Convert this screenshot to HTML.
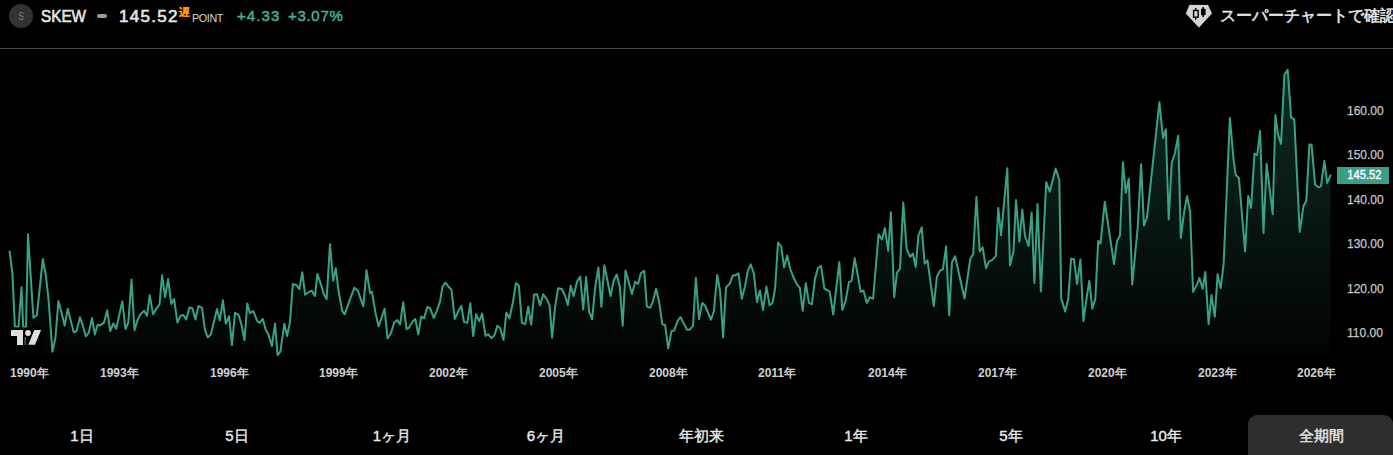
<!DOCTYPE html>
<html lang="ja">
<head>
<meta charset="utf-8">
<style>
html,body{margin:0;padding:0;background:#000;width:1393px;height:455px;overflow:hidden;}
body{position:relative;font-family:"Liberation Sans",sans-serif;color:#d1d4dc;}
.a{position:absolute;white-space:nowrap;}
.logo{left:9px;top:4px;width:24px;height:24px;border-radius:50%;background:#323232;}
.logoS{left:9px;top:4px;width:24px;color:#808080;font-size:11.5px;line-height:24px;text-align:center;transform:scaleX(0.72);transform-origin:12px 0;}
.sym{left:41px;top:5px;font-size:17px;font-weight:normal;-webkit-text-stroke:0.6px #e6e6e6;color:#e6e6e6;line-height:24px;transform:scaleX(0.9);transform-origin:0 0;}
.dash{left:97px;top:14px;width:10px;height:4px;border-radius:2px;background:#9a9a9a;}
.price{left:119px;top:5px;font-size:17px;font-weight:normal;-webkit-text-stroke:0.6px #e6e6e6;color:#e6e6e6;line-height:24px;letter-spacing:1.3px;}
.delay{left:179px;top:5px;font-size:11px;font-weight:bold;-webkit-text-stroke:0.2px #ff9800;color:#ff9800;line-height:14px;}
.unit{left:192px;top:11px;font-size:10.8px;color:#d8d8d8;line-height:14px;letter-spacing:-0.4px;}
.chg{top:6px;font-size:15px;font-weight:normal;-webkit-text-stroke:0.5px #40b094;color:#40b094;line-height:20px;letter-spacing:1.1px;}
.sep{left:0;top:48px;width:1393px;height:1px;background:#4a4a4a;}
.sc{left:1186px;top:4px;}
.sct{left:1220px;top:4px;font-size:16px;font-weight:normal;-webkit-text-stroke:0.5px #e8e8e8;color:#e8e8e8;line-height:24px;}
.yl{left:1347px;font-size:12px;color:#c6c6c6;-webkit-text-stroke:0.25px #c6c6c6;line-height:14px;}
.xl{top:366px;font-size:12px;font-weight:bold;color:#cfcfcf;line-height:14px;}
.tab{top:427px;font-size:15px;font-weight:normal;-webkit-text-stroke:0.4px #e8e8e8;color:#e8e8e8;line-height:18px;text-align:center;width:154px;}
.btn{left:1248px;top:415px;width:145px;height:50px;border-radius:9px;background:#2e2e2e;}
.lastlbl{left:1337px;top:167px;width:52px;height:17px;background:#3a9e86;color:#fff;font-size:12px;font-weight:normal;-webkit-text-stroke:0.35px #fff;line-height:17px;text-align:center;}
.lastlbl span{display:inline-block;transform:scaleX(0.93);margin-left:2px;}
</style>
</head>
<body>
<div class="a logo"></div><div class="a logoS">S</div>
<div class="a sym">SKEW</div>
<div class="a dash"></div>
<div class="a price">145.52</div>
<div class="a delay">遅</div>
<div class="a unit">POINT</div>
<div class="a chg" style="left:237px">+4.33</div>
<div class="a chg" style="left:288px;letter-spacing:0.7px">+3.07%</div>
<svg class="a" style="left:1182px;top:0" width="34" height="32" viewBox="0 0 34 32">
<path d="M7.4 4.9 L26 4.9 L29.9 13.4 L16.9 27.4 L3.9 13.4 Z" fill="#d4d4d4" stroke="#d4d4d4" stroke-width="0.2" stroke-linejoin="round"/>
<path d="M13.7 8.1 V19.7" stroke="#000" stroke-width="1.4"/>
<rect x="11.6" y="10.5" width="4.6" height="6.7" fill="#d4d4d4" stroke="#000" stroke-width="1.4"/>
<path d="M21.2 7 V16.9" stroke="#000" stroke-width="1.5"/>
<rect x="19" y="8.8" width="4.6" height="6.3" fill="#000"/>
</svg>
<div class="a sct">スーパーチャートで確認</div>
<div class="a sep"></div>

<svg class="a" style="left:0;top:0" width="1393" height="400" viewBox="0 0 1393 400">
<defs><linearGradient id="g" x1="0" y1="69" x2="0" y2="355.5" gradientUnits="userSpaceOnUse">
<stop offset="0" stop-color="#38a287" stop-opacity="0.27"/>
<stop offset="1" stop-color="#38a287" stop-opacity="0.02"/>
</linearGradient></defs>
<path d="M9.6 251.4 L12.4 272.8 L14.9 326.6 L18.5 327.1 L21.5 287.2 L23.2 327.1 L26.0 327.1 L28.0 234.3 L33.4 317.8 L36.9 315.2 L42.8 259.1 L45.8 275.0 L48.6 300.0 L52.4 351.7 L55.4 338.0 L58.4 300.9 L61.2 311.6 L64.7 325.7 L67.7 308.8 L73.8 332.4 L76.5 331.0 L80.0 317.3 L82.6 324.8 L85.8 336.3 L88.8 332.7 L92.0 318.0 L94.9 334.5 L97.6 324.8 L100.3 325.4 L104.0 322.6 L107.2 310.2 L110.2 331.0 L113.4 323.3 L116.2 328.7 L122.3 301.4 L125.5 329.1 L128.3 322.6 L131.5 279.4 L134.5 330.2 L137.6 319.8 L140.4 314.2 L144.2 310.8 L147.0 315.7 L149.8 295.3 L153.0 314.2 L156.3 308.9 L159.5 304.3 L162.1 275.3 L165.1 297.0 L168.1 279.0 L171.3 303.9 L174.1 299.0 L177.4 322.6 L180.6 315.7 L183.4 315.1 L186.2 319.4 L189.4 307.6 L192.4 308.2 L195.5 319.4 L198.3 306.2 L202.0 307.7 L204.9 329.7 L207.7 337.4 L210.8 334.6 L217.0 309.1 L219.8 320.5 L222.9 300.3 L225.8 323.6 L229.1 316.1 L231.9 345.1 L235.0 312.8 L238.5 314.8 L241.6 325.3 L244.5 340.3 L247.3 303.4 L249.9 313.2 L253.2 311.0 L257.1 320.7 L259.6 322.9 L262.9 319.0 L265.3 328.6 L268.6 335.0 L271.9 346.0 L275.0 323.8 L277.6 355.0 L280.4 351.7 L284.3 323.8 L287.1 336.0 L290.0 322.1 L292.8 284.0 L296.5 285.1 L299.4 289.1 L302.3 272.2 L305.1 294.8 L309.2 291.8 L311.6 290.6 L315.0 295.9 L317.4 273.9 L321.0 284.6 L323.7 293.8 L326.6 299.1 L330.0 244.2 L333.1 280.9 L335.8 268.3 L338.7 291.8 L342.3 311.2 L344.7 314.3 L349.6 300.3 L354.4 287.7 L358.0 291.1 L363.3 306.3 L366.5 270.3 L370.1 293.0 L372.0 291.8 L375.4 312.4 L378.6 326.4 L384.6 308.7 L387.5 338.5 L390.7 333.6 L394.3 322.5 L397.2 320.1 L400.1 324.5 L403.2 302.2 L406.6 329.2 L409.0 327.6 L412.5 321.7 L415.3 318.9 L418.3 334.4 L421.2 316.4 L424.2 318.3 L427.2 306.9 L430.3 308.5 L433.7 318.0 L437.0 310.4 L440.0 301.5 L442.6 286.3 L445.5 282.7 L448.5 286.7 L451.5 289.7 L454.8 318.9 L458.0 311.8 L461.4 305.8 L463.9 321.7 L467.3 322.9 L470.3 303.2 L473.2 336.1 L476.2 314.1 L479.2 321.3 L482.1 313.5 L485.5 335.8 L488.1 334.2 L491.4 338.1 L494.4 335.2 L497.4 325.7 L500.3 328.2 L503.5 340.1 L506.3 312.5 L509.4 318.3 L512.9 302.5 L515.9 283.1 L518.9 285.7 L521.9 322.8 L525.2 324.2 L528.2 306.7 L531.2 324.6 L534.1 294.6 L537.1 294.2 L540.1 305.4 L543.2 294.3 L546.6 298.9 L549.6 305.4 L552.1 337.7 L555.1 306.8 L558.1 288.2 L561.8 289.0 L565.0 295.5 L567.8 305.0 L570.7 285.8 L573.7 296.1 L576.9 281.7 L580.2 276.5 L583.2 309.4 L586.1 277.1 L589.1 311.4 L592.1 319.3 L595.4 285.7 L598.4 267.6 L601.4 306.8 L604.3 265.2 L607.3 279.7 L610.5 296.1 L613.8 280.3 L616.8 274.5 L619.8 286.9 L622.7 325.8 L625.5 270.6 L628.6 281.4 L631.9 294.1 L635.2 281.8 L638.1 284.0 L640.9 273.0 L644.2 270.8 L646.9 306.6 L650.2 307.7 L652.8 301.8 L656.1 288.7 L659.0 301.2 L662.3 324.2 L665.1 324.9 L668.2 348.4 L671.5 331.3 L674.3 330.4 L677.6 320.9 L680.5 317.0 L683.6 323.1 L687.1 329.7 L689.7 329.7 L693.0 325.8 L695.9 277.7 L699.0 319.2 L702.3 302.9 L705.1 305.5 L711.0 319.8 L713.9 311.0 L717.2 275.0 L720.1 291.3 L723.1 337.4 L726.0 287.4 L729.7 283.8 L732.6 275.8 L735.7 275.0 L738.6 273.4 L741.8 298.7 L744.9 286.7 L747.8 270.9 L750.7 264.4 L753.8 273.4 L757.0 301.9 L759.9 290.5 L763.0 310.1 L766.4 286.6 L769.6 305.3 L772.5 302.9 L775.1 288.3 L778.0 242.6 L781.2 246.3 L784.1 267.3 L787.2 255.4 L790.1 268.5 L793.3 277.0 L796.6 283.8 L799.8 287.9 L802.7 310.8 L805.8 283.2 L809.0 302.9 L811.9 304.3 L815.0 278.7 L817.9 268.0 L821.1 266.1 L824.4 288.6 L827.0 290.0 L829.7 291.7 L833.2 314.5 L839.3 262.2 L842.3 309.8 L845.6 300.8 L848.9 282.4 L851.6 280.7 L854.7 258.1 L860.7 291.7 L863.5 290.6 L866.8 303.0 L869.8 297.2 L873.1 298.8 L878.6 234.2 L881.9 239.5 L884.9 228.1 L888.2 250.8 L890.9 212.2 L894.2 297.2 L897.0 272.7 L900.0 268.6 L903.3 202.6 L906.6 248.6 L910.2 256.8 L912.9 253.5 L915.7 267.0 L918.4 235.7 L921.7 227.3 L924.7 263.7 L927.5 260.3 L933.8 306.2 L936.9 276.4 L940.0 270.7 L942.9 269.3 L946.1 246.4 L949.2 315.2 L951.9 262.4 L955.1 256.2 L964.5 298.5 L970.3 258.8 L973.2 254.0 L976.4 197.0 L979.7 251.5 L982.6 247.3 L986.0 268.0 L989.1 261.3 L992.2 259.9 L995.8 256.1 L998.3 207.9 L1001.0 235.3 L1007.3 168.2 L1010.0 265.5 L1013.5 250.9 L1016.0 200.0 L1019.4 241.6 L1022.3 209.6 L1025.0 236.0 L1028.6 246.0 L1031.6 212.5 L1034.4 283.0 L1037.5 203.9 L1040.9 291.4 L1046.2 182.1 L1049.8 191.6 L1055.7 168.6 L1059.3 179.8 L1061.2 298.3 L1065.2 311.6 L1068.2 298.9 L1071.1 258.8 L1073.9 259.2 L1077.1 283.9 L1080.4 259.5 L1083.4 321.1 L1086.4 299.3 L1089.3 280.7 L1092.3 308.8 L1095.3 298.9 L1098.2 241.0 L1100.5 243.5 L1104.8 201.8 L1114.0 264.0 L1117.0 241.2 L1120.0 235.5 L1122.9 162.3 L1125.8 192.8 L1128.8 178.7 L1132.2 284.6 L1137.7 227.4 L1141.1 164.3 L1144.0 225.4 L1147.0 217.5 L1159.4 102.2 L1163.0 137.9 L1165.8 129.3 L1168.7 219.5 L1171.7 162.8 L1174.9 153.3 L1178.2 135.8 L1180.8 237.9 L1184.2 211.6 L1187.1 196.1 L1190.1 211.6 L1193.1 291.9 L1197.0 284.6 L1199.4 278.0 L1202.7 288.9 L1205.3 272.0 L1208.6 324.1 L1211.5 294.9 L1214.8 316.8 L1217.6 274.2 L1220.7 288.2 L1223.6 264.1 L1229.9 117.9 L1233.6 159.8 L1235.7 175.1 L1238.9 178.0 L1245.1 251.5 L1248.2 196.0 L1251.0 207.9 L1254.5 153.6 L1257.2 155.0 L1260.1 130.9 L1263.5 232.9 L1266.6 163.7 L1272.7 214.2 L1275.4 115.1 L1277.9 134.1 L1281.0 144.0 L1284.4 74.8 L1287.7 69.9 L1291.1 117.3 L1294.3 119.3 L1299.7 231.9 L1303.5 205.9 L1306.3 201.1 L1309.4 144.4 L1311.6 144.8 L1315.1 184.6 L1318.4 187.3 L1321.0 186.2 L1324.3 161.1 L1327.2 182.9 L1330.5 175.2 L1330.5 355.5 L9.6 355.5 Z" fill="url(#g)"/>
<path d="M9.6 251.4 L12.4 272.8 L14.9 326.6 L18.5 327.1 L21.5 287.2 L23.2 327.1 L26.0 327.1 L28.0 234.3 L33.4 317.8 L36.9 315.2 L42.8 259.1 L45.8 275.0 L48.6 300.0 L52.4 351.7 L55.4 338.0 L58.4 300.9 L61.2 311.6 L64.7 325.7 L67.7 308.8 L73.8 332.4 L76.5 331.0 L80.0 317.3 L82.6 324.8 L85.8 336.3 L88.8 332.7 L92.0 318.0 L94.9 334.5 L97.6 324.8 L100.3 325.4 L104.0 322.6 L107.2 310.2 L110.2 331.0 L113.4 323.3 L116.2 328.7 L122.3 301.4 L125.5 329.1 L128.3 322.6 L131.5 279.4 L134.5 330.2 L137.6 319.8 L140.4 314.2 L144.2 310.8 L147.0 315.7 L149.8 295.3 L153.0 314.2 L156.3 308.9 L159.5 304.3 L162.1 275.3 L165.1 297.0 L168.1 279.0 L171.3 303.9 L174.1 299.0 L177.4 322.6 L180.6 315.7 L183.4 315.1 L186.2 319.4 L189.4 307.6 L192.4 308.2 L195.5 319.4 L198.3 306.2 L202.0 307.7 L204.9 329.7 L207.7 337.4 L210.8 334.6 L217.0 309.1 L219.8 320.5 L222.9 300.3 L225.8 323.6 L229.1 316.1 L231.9 345.1 L235.0 312.8 L238.5 314.8 L241.6 325.3 L244.5 340.3 L247.3 303.4 L249.9 313.2 L253.2 311.0 L257.1 320.7 L259.6 322.9 L262.9 319.0 L265.3 328.6 L268.6 335.0 L271.9 346.0 L275.0 323.8 L277.6 355.0 L280.4 351.7 L284.3 323.8 L287.1 336.0 L290.0 322.1 L292.8 284.0 L296.5 285.1 L299.4 289.1 L302.3 272.2 L305.1 294.8 L309.2 291.8 L311.6 290.6 L315.0 295.9 L317.4 273.9 L321.0 284.6 L323.7 293.8 L326.6 299.1 L330.0 244.2 L333.1 280.9 L335.8 268.3 L338.7 291.8 L342.3 311.2 L344.7 314.3 L349.6 300.3 L354.4 287.7 L358.0 291.1 L363.3 306.3 L366.5 270.3 L370.1 293.0 L372.0 291.8 L375.4 312.4 L378.6 326.4 L384.6 308.7 L387.5 338.5 L390.7 333.6 L394.3 322.5 L397.2 320.1 L400.1 324.5 L403.2 302.2 L406.6 329.2 L409.0 327.6 L412.5 321.7 L415.3 318.9 L418.3 334.4 L421.2 316.4 L424.2 318.3 L427.2 306.9 L430.3 308.5 L433.7 318.0 L437.0 310.4 L440.0 301.5 L442.6 286.3 L445.5 282.7 L448.5 286.7 L451.5 289.7 L454.8 318.9 L458.0 311.8 L461.4 305.8 L463.9 321.7 L467.3 322.9 L470.3 303.2 L473.2 336.1 L476.2 314.1 L479.2 321.3 L482.1 313.5 L485.5 335.8 L488.1 334.2 L491.4 338.1 L494.4 335.2 L497.4 325.7 L500.3 328.2 L503.5 340.1 L506.3 312.5 L509.4 318.3 L512.9 302.5 L515.9 283.1 L518.9 285.7 L521.9 322.8 L525.2 324.2 L528.2 306.7 L531.2 324.6 L534.1 294.6 L537.1 294.2 L540.1 305.4 L543.2 294.3 L546.6 298.9 L549.6 305.4 L552.1 337.7 L555.1 306.8 L558.1 288.2 L561.8 289.0 L565.0 295.5 L567.8 305.0 L570.7 285.8 L573.7 296.1 L576.9 281.7 L580.2 276.5 L583.2 309.4 L586.1 277.1 L589.1 311.4 L592.1 319.3 L595.4 285.7 L598.4 267.6 L601.4 306.8 L604.3 265.2 L607.3 279.7 L610.5 296.1 L613.8 280.3 L616.8 274.5 L619.8 286.9 L622.7 325.8 L625.5 270.6 L628.6 281.4 L631.9 294.1 L635.2 281.8 L638.1 284.0 L640.9 273.0 L644.2 270.8 L646.9 306.6 L650.2 307.7 L652.8 301.8 L656.1 288.7 L659.0 301.2 L662.3 324.2 L665.1 324.9 L668.2 348.4 L671.5 331.3 L674.3 330.4 L677.6 320.9 L680.5 317.0 L683.6 323.1 L687.1 329.7 L689.7 329.7 L693.0 325.8 L695.9 277.7 L699.0 319.2 L702.3 302.9 L705.1 305.5 L711.0 319.8 L713.9 311.0 L717.2 275.0 L720.1 291.3 L723.1 337.4 L726.0 287.4 L729.7 283.8 L732.6 275.8 L735.7 275.0 L738.6 273.4 L741.8 298.7 L744.9 286.7 L747.8 270.9 L750.7 264.4 L753.8 273.4 L757.0 301.9 L759.9 290.5 L763.0 310.1 L766.4 286.6 L769.6 305.3 L772.5 302.9 L775.1 288.3 L778.0 242.6 L781.2 246.3 L784.1 267.3 L787.2 255.4 L790.1 268.5 L793.3 277.0 L796.6 283.8 L799.8 287.9 L802.7 310.8 L805.8 283.2 L809.0 302.9 L811.9 304.3 L815.0 278.7 L817.9 268.0 L821.1 266.1 L824.4 288.6 L827.0 290.0 L829.7 291.7 L833.2 314.5 L839.3 262.2 L842.3 309.8 L845.6 300.8 L848.9 282.4 L851.6 280.7 L854.7 258.1 L860.7 291.7 L863.5 290.6 L866.8 303.0 L869.8 297.2 L873.1 298.8 L878.6 234.2 L881.9 239.5 L884.9 228.1 L888.2 250.8 L890.9 212.2 L894.2 297.2 L897.0 272.7 L900.0 268.6 L903.3 202.6 L906.6 248.6 L910.2 256.8 L912.9 253.5 L915.7 267.0 L918.4 235.7 L921.7 227.3 L924.7 263.7 L927.5 260.3 L933.8 306.2 L936.9 276.4 L940.0 270.7 L942.9 269.3 L946.1 246.4 L949.2 315.2 L951.9 262.4 L955.1 256.2 L964.5 298.5 L970.3 258.8 L973.2 254.0 L976.4 197.0 L979.7 251.5 L982.6 247.3 L986.0 268.0 L989.1 261.3 L992.2 259.9 L995.8 256.1 L998.3 207.9 L1001.0 235.3 L1007.3 168.2 L1010.0 265.5 L1013.5 250.9 L1016.0 200.0 L1019.4 241.6 L1022.3 209.6 L1025.0 236.0 L1028.6 246.0 L1031.6 212.5 L1034.4 283.0 L1037.5 203.9 L1040.9 291.4 L1046.2 182.1 L1049.8 191.6 L1055.7 168.6 L1059.3 179.8 L1061.2 298.3 L1065.2 311.6 L1068.2 298.9 L1071.1 258.8 L1073.9 259.2 L1077.1 283.9 L1080.4 259.5 L1083.4 321.1 L1086.4 299.3 L1089.3 280.7 L1092.3 308.8 L1095.3 298.9 L1098.2 241.0 L1100.5 243.5 L1104.8 201.8 L1114.0 264.0 L1117.0 241.2 L1120.0 235.5 L1122.9 162.3 L1125.8 192.8 L1128.8 178.7 L1132.2 284.6 L1137.7 227.4 L1141.1 164.3 L1144.0 225.4 L1147.0 217.5 L1159.4 102.2 L1163.0 137.9 L1165.8 129.3 L1168.7 219.5 L1171.7 162.8 L1174.9 153.3 L1178.2 135.8 L1180.8 237.9 L1184.2 211.6 L1187.1 196.1 L1190.1 211.6 L1193.1 291.9 L1197.0 284.6 L1199.4 278.0 L1202.7 288.9 L1205.3 272.0 L1208.6 324.1 L1211.5 294.9 L1214.8 316.8 L1217.6 274.2 L1220.7 288.2 L1223.6 264.1 L1229.9 117.9 L1233.6 159.8 L1235.7 175.1 L1238.9 178.0 L1245.1 251.5 L1248.2 196.0 L1251.0 207.9 L1254.5 153.6 L1257.2 155.0 L1260.1 130.9 L1263.5 232.9 L1266.6 163.7 L1272.7 214.2 L1275.4 115.1 L1277.9 134.1 L1281.0 144.0 L1284.4 74.8 L1287.7 69.9 L1291.1 117.3 L1294.3 119.3 L1299.7 231.9 L1303.5 205.9 L1306.3 201.1 L1309.4 144.4 L1311.6 144.8 L1315.1 184.6 L1318.4 187.3 L1321.0 186.2 L1324.3 161.1 L1327.2 182.9 L1330.5 175.2" fill="none" stroke="#38a287" stroke-width="2" stroke-linejoin="round" stroke-linecap="round"/>
<rect x="9" y="327.5" width="35" height="23" fill="#000"/>
<path d="M25.2 337 V345" stroke="#38a287" stroke-width="1"/>
<g fill="#dedede">
<path d="M11 330 H23 V345 H17 V336 H11 Z"/>
<circle cx="28" cy="333" r="2.9"/>
<path d="M34.3 330 H41.1 L35 344.7 H28.3 Z"/>
</g>
</svg>

<div class="a yl" style="top:104px">160.00</div>
<div class="a yl" style="top:148px">150.00</div>
<div class="a yl" style="top:193px">140.00</div>
<div class="a yl" style="top:237px">130.00</div>
<div class="a yl" style="top:282px">120.00</div>
<div class="a yl" style="top:326px">110.00</div>
<div class="a lastlbl"><span>145.52</span></div>

<div class="a xl" style="left:10px">1990年</div>
<div class="a xl" style="left:100px">1993年</div>
<div class="a xl" style="left:210px">1996年</div>
<div class="a xl" style="left:319px">1999年</div>
<div class="a xl" style="left:429px">2002年</div>
<div class="a xl" style="left:539px">2005年</div>
<div class="a xl" style="left:649px">2008年</div>
<div class="a xl" style="left:758px">2011年</div>
<div class="a xl" style="left:868px">2014年</div>
<div class="a xl" style="left:978px">2017年</div>
<div class="a xl" style="left:1088px">2020年</div>
<div class="a xl" style="left:1198px">2023年</div>
<div class="a xl" style="left:1297px">2026年</div>

<div class="a btn"></div>
<div class="a tab" style="left:5px">1日</div>
<div class="a tab" style="left:160px">5日</div>
<div class="a tab" style="left:315px">1ヶ月</div>
<div class="a tab" style="left:469px">6ヶ月</div>
<div class="a tab" style="left:624px">年初来</div>
<div class="a tab" style="left:779px">1年</div>
<div class="a tab" style="left:934px">5年</div>
<div class="a tab" style="left:1089px">10年</div>
<div class="a tab" style="left:1244px">全期間</div>
</body>
</html>
